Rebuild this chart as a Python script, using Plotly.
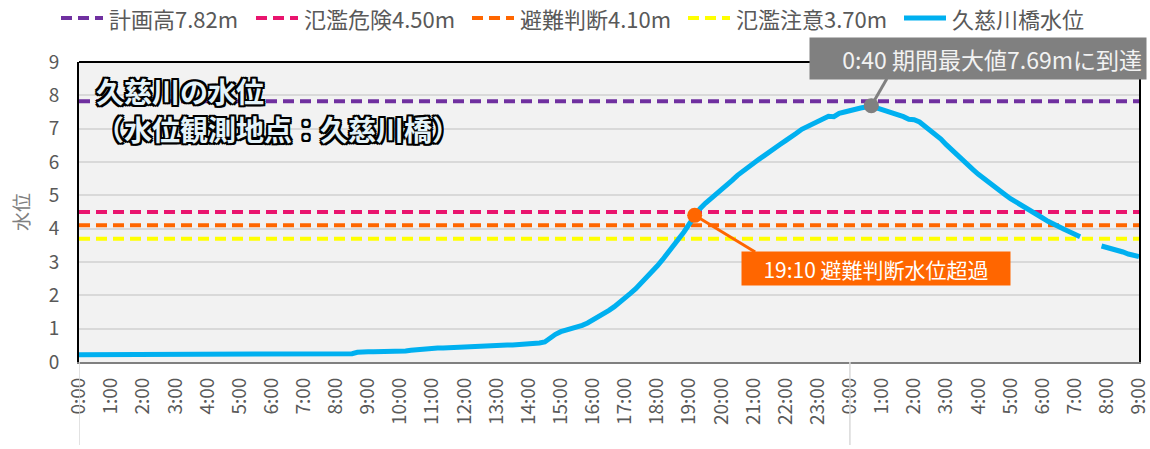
import plotly.graph_objects as go

# 10-minute water levels at 久慈川橋 (m); day 1 runs 0:00-23:50, day 2 runs 0:00-9:00
STEP_MIN = 10
levels_day1 = [
    0.22, 0.22, 0.22, 0.22, 0.22, 0.22,   # 0:00
    0.22, 0.22, 0.22, 0.22, 0.22, 0.22,   # 1:00
    0.22, 0.22, 0.22, 0.22, 0.22, 0.22,   # 2:00
    0.22, 0.22, 0.22, 0.22, 0.22, 0.22,   # 3:00
    0.22, 0.22, 0.22, 0.22, 0.22, 0.22,   # 4:00
    0.22, 0.22, 0.22, 0.22, 0.22, 0.22,   # 5:00
    0.22, 0.22, 0.22, 0.22, 0.22, 0.22,   # 6:00
    0.22, 0.22, 0.22, 0.22, 0.22, 0.22,   # 7:00
    0.22, 0.22, 0.22, 0.25, 0.29, 0.31,   # 8:00
    0.31, 0.31, 0.31, 0.31, 0.31, 0.31,   # 9:00
    0.31, 0.33, 0.35, 0.37, 0.38, 0.40,   # 10:00
    0.41, 0.42, 0.42, 0.43, 0.44, 0.45,   # 11:00
    0.46, 0.47, 0.48, 0.49, 0.49, 0.50,   # 12:00
    0.50, 0.50, 0.51, 0.51, 0.52, 0.52,   # 13:00
    0.53, 0.55, 0.57, 0.60, 0.72, 0.83,   # 14:00
    0.91, 0.95, 0.99, 1.03, 1.10, 1.17,   # 15:00
    1.26, 1.34, 1.44, 1.55, 1.66, 1.78,   # 16:00
    1.91, 2.06, 2.20, 2.36, 2.52, 2.69,   # 17:00
    2.88, 3.07, 3.27, 3.46, 3.66, 3.90,   # 18:00
    4.14, 4.40, 4.60, 4.76, 4.89, 5.02,   # 19:00
    5.15, 5.30, 5.45, 5.60, 5.73, 5.86,   # 20:00
    5.98, 6.08, 6.19, 6.29, 6.40, 6.53,   # 21:00
    6.64, 6.73, 6.86, 6.98, 7.06, 7.16,   # 22:00
    7.24, 7.30, 7.37, 7.36, 7.46, 7.50,   # 23:00
]
levels_day2 = [
    7.55, 7.59, 7.62, 7.65, 7.69, 7.62,   # 0:00
    7.57, 7.52, 7.48, 7.44, 7.36, 7.28,   # 1:00
    7.27, 7.20, 7.08, 6.97, 6.85, 6.69,   # 2:00
    6.52, 6.36, 6.21, 6.05, 5.90, 5.77,   # 3:00
    5.63, 5.50, 5.37, 5.25, 5.13, 5.02,   # 4:00
    4.90, 4.81, 4.71, 4.61, 4.52, 4.43,   # 5:00
    4.32, 4.22, 4.13, 4.05, 3.98, 3.91,   # 6:00
    3.83, 3.76, None, None, None, 3.48,   # 7:00 (欠測あり)
    3.44, 3.40, 3.34, 3.30, 3.24, 3.20,   # 8:00
    3.16,                                 # 9:00
]
water_level = levels_day1 + levels_day2
hours = [i * STEP_MIN / 60 for i in range(len(water_level))]

hour_labels = [
    "0:00", "1:00", "2:00", "3:00", "4:00", "5:00", "6:00", "7:00", "8:00",
    "9:00", "10:00", "11:00", "12:00", "13:00", "14:00", "15:00", "16:00",
    "17:00", "18:00", "19:00", "20:00", "21:00", "22:00", "23:00",
    "0:00", "1:00", "2:00", "3:00", "4:00", "5:00", "6:00", "7:00", "8:00", "9:00",
]

threshold_names = ["計画高7.82m", "氾濫危険4.50m", "避難判断4.10m", "氾濫注意3.70m"]
threshold_levels = [7.82, 4.50, 4.10, 3.70]
threshold_colors = ["#7030A0", "#E9146E", "#FF6600", "#FFFF00"]
series_name = "久慈川橋水位"
series_color = "#00B0F0"

# highlighted events: (label text, day index, hh, mm)
peak_event = ("0:40 期間最大値7.69mに到達", 1, 0, 40)
alert_event = ("19:10 避難判断水位超過", 0, 19, 10)

title_lines = ["久慈川の水位", "（水位観測地点：久慈川橋）"]

FONT = "Noto Sans CJK JP"
TXT = "#595959"

# plot-area geometry in pixels (used for placing decorations outside the axes)
W, H = 1150, 449
ML, MR, MT, MB = 79, 11, 62, 87
PW, PH = W - ML - MR, H - MT - MB


def px_x(p):
    return (p - ML) / PW


def px_y(p):
    return (H - MB - p) / PH


def event_index(ev):
    _, day, hh, mm = ev
    return (day * 24 * 60 + hh * 60 + mm) // STEP_MIN


fig = go.Figure()

for name, lvl, col in zip(threshold_names, threshold_levels, threshold_colors):
    fig.add_trace(go.Scatter(
        x=[0, len(hour_labels) - 1], y=[lvl, lvl], mode="lines", name=name,
        line=dict(color=col, width=4, dash="11px,6px"), hoverinfo="skip",
    ))

fig.add_trace(go.Scatter(
    x=hours, y=water_level, mode="lines", name=series_name,
    line=dict(color=series_color, width=5), connectgaps=False,
))

shapes = []
annotations = []

# event markers, leader lines and labels
pi = event_index(peak_event)
ai = event_index(alert_event)
peak_x, peak_y = hours[pi], water_level[pi]
alert_x, alert_y = hours[ai], water_level[ai]

shapes.append(dict(type="line", xref="x", yref="y", x0=peak_x, y0=peak_y,
                   x1=25.15, y1=8.5, line=dict(color="#808080", width=3), layer="above"))
shapes.append(dict(type="line", xref="x", yref="y", x0=alert_x, y0=alert_y,
                   x1=21.05, y1=3.3, line=dict(color="#FF6600", width=3), layer="above"))

fig.add_trace(go.Scatter(x=[peak_x], y=[peak_y], mode="markers",
                         marker=dict(color="#808080", size=15), hoverinfo="skip"))
fig.add_trace(go.Scatter(x=[alert_x], y=[alert_y], mode="markers",
                         marker=dict(color="#FF6600", size=15), hoverinfo="skip"))

annotations.append(dict(
    text=peak_event[0], xref="paper", yref="paper", x=px_x(978), y=px_y(58.5),
    xanchor="center", yanchor="middle", showarrow=False, width=328, height=33,
    align="right", borderpad=4, bgcolor="#808080",
    font=dict(family=FONT, size=23, color="#F2F2F2"),
))
annotations.append(dict(
    text=alert_event[0], xref="paper", yref="paper", x=px_x(876), y=px_y(268.5),
    xanchor="center", yanchor="middle", showarrow=False, width=262, height=27,
    align="center", borderpad=3, bgcolor="#FF6600",
    font=dict(family=FONT, size=21, color="white"),
))

# chart title with outlined lettering
outline = ", ".join(f"{dx}px {dy}px 0 #000" for dx, dy in
                    [(-2, -2), (2, -2), (-2, 2), (2, 2), (0, 2), (0, -2), (2, 0), (-2, 0)])
for line_text, y_mid in zip(title_lines, [91, 129]):
    annotations.append(dict(
        text=line_text, xref="paper", yref="paper",
        x=px_x(94), y=px_y(y_mid), xanchor="left", yanchor="middle", align="left",
        showarrow=False,
        font=dict(family=FONT, size=28, color="#E4F3F9", weight="bold", shadow=outline),
    ))

# legend row
legend_x = [61, 256, 472, 688, 904]
legend_items = list(zip(threshold_names, threshold_colors, ["11px,6px"] * 4))
legend_items.append((series_name, series_color, "solid"))
for x0, (name, col, dash) in zip(legend_x, legend_items):
    shapes.append(dict(type="line", xref="paper", yref="paper",
                       x0=px_x(x0), x1=px_x(x0 + 42), y0=px_y(18), y1=px_y(18),
                       line=dict(color=col, width=4 if dash != "solid" else 5, dash=dash)))
    annotations.append(dict(text=name, xref="paper", yref="paper",
                            x=px_x(x0 + 46), y=px_y(18), xanchor="left", yanchor="middle",
                            showarrow=False, font=dict(family=FONT, size=22, color=TXT)))

# plot frame top edge and day separators under the axis
shapes.append(dict(type="line", xref="paper", yref="paper", x0=0, x1=1, y0=1, y1=1,
                   line=dict(color="black", width=2)))
for xs in (0, 24):
    shapes.append(dict(type="line", xref="x", yref="paper", x0=xs, x1=xs,
                       y0=0, y1=px_y(445), line=dict(color="#D9D9D9", width=1.5)))

fig.update_layout(
    width=W, height=H, margin=dict(l=ML, r=MR, t=MT, b=MB),
    plot_bgcolor="#F2F2F2", paper_bgcolor="white", showlegend=False,
    font=dict(family=FONT, color=TXT),
    shapes=shapes, annotations=annotations,
)
fig.update_xaxes(
    range=[0, len(hour_labels) - 1], tickvals=list(range(len(hour_labels))),
    ticktext=hour_labels, tickangle=-90, showgrid=False, zeroline=False,
    showline=True, linecolor="#808080", linewidth=2, ticks="",
    tickfont=dict(family=FONT, size=19, color=TXT), ticklabelstandoff=6,
    ticklabeloverflow="allow", automargin=False,
)
fig.update_yaxes(
    range=[0, 9], dtick=1, showgrid=True, gridcolor="#D9D9D9", gridwidth=1.5,
    zeroline=False, showline=True, linecolor="black", linewidth=2, mirror=True,
    ticks="", tickfont=dict(family=FONT, size=19, color=TXT), ticklabelstandoff=14,
    title=dict(text="水位", font=dict(family=FONT, size=19, color="#808080"), standoff=14),
    automargin=False,
)

fig.write_html("out.html")
